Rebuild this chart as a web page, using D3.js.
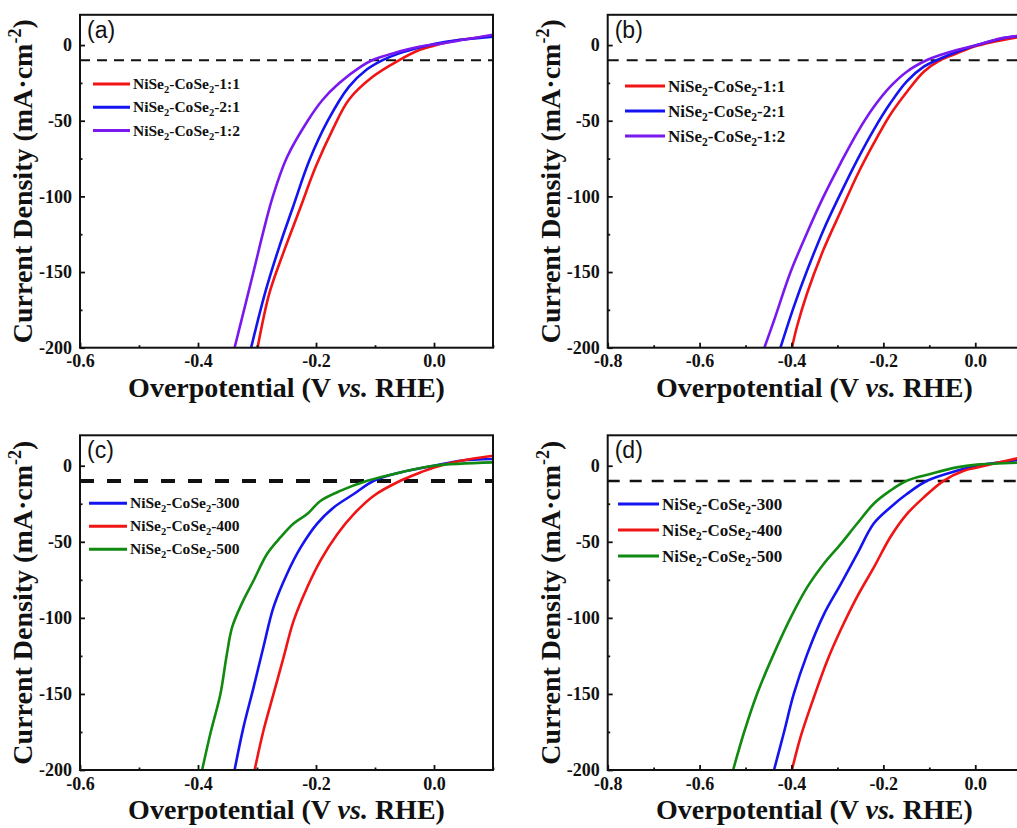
<!DOCTYPE html>
<html>
<head>
<meta charset="utf-8">
<script src="https://cdn.jsdelivr.net/npm/d3@7"></script>
<style>
  html, body { margin: 0; padding: 0; background: #fff; }
  svg { display: block; }
</style>
</head>
<body>
<svg id="fig" width="1017" height="828"></svg>
<script>
// ---- tick values ----
const xTicksShort = [-0.6, -0.4, -0.2, 0.0];
const xMinorShort = [-0.5, -0.3, -0.1, 0.1];
const xTicksLong = [-0.8, -0.6, -0.4, -0.2, 0.0];
const xMinorLong = [-0.7, -0.5, -0.3, -0.1, 0.1];
const yTicks = [0, -50, -100, -150, -200];
const yMinor = [-25, -75, -125, -175];
const refCurrent = -10;

// ---- legend labels ----
const ratioLabels = ["NiSe2-CoSe2-1:1", "NiSe2-CoSe2-2:1", "NiSe2-CoSe2-1:2"];
const tempLabels = ["NiSe2-CoSe2-300", "NiSe2-CoSe2-400", "NiSe2-CoSe2-500"];

// ---- polarization curves, [potential (V), current density (mA/cm2)] ----
// (a) ratio series
const a11 = [[-0.299,-200],[-0.279,-164],[-0.256,-138],[-0.228,-109],[-0.200,-80],[-0.172,-56],[-0.144,-36],[-0.104,-21],[-0.059,-10],[-0.025,-3.3],[-0.003,-0.7],[0.042,3.3],[0.100,6.0]];
const a21 = [[-0.310,-200],[-0.285,-162],[-0.262,-133],[-0.239,-107],[-0.211,-76],[-0.180,-50],[-0.144,-27.5],[-0.115,-16.5],[-0.087,-10],[-0.059,-5.5],[-0.020,-1.1],[0.020,2.2],[0.100,5.5]];
const a12 = [[-0.338,-200],[-0.306,-150],[-0.290,-124.4],[-0.273,-99.8],[-0.249,-74],[-0.214,-50],[-0.189,-36.3],[-0.161,-25.3],[-0.124,-14.3],[-0.104,-9.9],[-0.070,-5.5],[-0.025,-1.1],[0.014,1.1],[0.100,6.8]];
// (b) ratio series
const b11 = [[-0.399,-200],[-0.388,-186],[-0.366,-164],[-0.330,-135],[-0.293,-110],[-0.257,-86],[-0.221,-65],[-0.185,-46],[-0.149,-31],[-0.112,-17.6],[-0.076,-9.9],[-0.040,-5.5],[-0.004,-1.1],[0.040,2.2],[0.100,5.5]];
const b21 = [[-0.424,-200],[-0.395,-173],[-0.366,-149],[-0.330,-122],[-0.293,-98],[-0.257,-76],[-0.221,-56],[-0.185,-38.5],[-0.149,-24],[-0.112,-14.3],[-0.083,-9.9],[-0.040,-4.4],[0.004,0],[0.069,5],[0.100,5.8]];
const b12 = [[-0.459,-200],[-0.438,-182],[-0.402,-150],[-0.366,-124],[-0.330,-100],[-0.293,-78],[-0.257,-58],[-0.221,-41],[-0.185,-27.5],[-0.149,-17.6],[-0.105,-9.9],[-0.076,-6.6],[-0.040,-3.3],[0.004,0],[0.054,4.4],[0.100,6.2]];
// (c) annealing temperature series
const c300 = [[-0.338,-200],[-0.323,-172],[-0.306,-146],[-0.289,-119],[-0.272,-93],[-0.249,-71],[-0.226,-53.7],[-0.198,-38],[-0.170,-27.4],[-0.136,-18.6],[-0.102,-9.9],[-0.057,-4.4],[0,0],[0.045,3.3],[0.100,4.4]];
const c400 = [[-0.304,-200],[-0.289,-174],[-0.272,-150],[-0.255,-126],[-0.238,-102],[-0.215,-80],[-0.192,-62],[-0.164,-45],[-0.136,-31.8],[-0.102,-19.7],[-0.057,-9.9],[-0.023,-4.4],[0,-1.1],[0.045,3.3],[0.100,6.6]];
const c500 = [[-0.393,-200],[-0.379,-176],[-0.362,-150],[-0.352,-126],[-0.342,-106],[-0.325,-90],[-0.306,-75.6],[-0.283,-58],[-0.260,-47],[-0.238,-38],[-0.215,-31.8],[-0.192,-23],[-0.158,-16.4],[-0.113,-9.9],[-0.057,-4.4],[0,0],[0.100,2.2]];
// (d) annealing temperature series
const d300 = [[-0.438,-200],[-0.417,-176],[-0.395,-150],[-0.366,-124],[-0.330,-98],[-0.293,-78],[-0.257,-58],[-0.221,-38],[-0.185,-27.4],[-0.149,-18.6],[-0.105,-9.9],[-0.040,-3.3],[0.004,0],[0.100,4.0]];
const d400 = [[-0.399,-200],[-0.380,-178],[-0.351,-152],[-0.322,-128],[-0.293,-108],[-0.257,-86],[-0.221,-67],[-0.185,-47],[-0.149,-31.8],[-0.112,-20.8],[-0.069,-9.9],[-0.025,-3.3],[0.004,-1.1],[0.100,5.5]];
const d500 = [[-0.527,-200],[-0.504,-176],[-0.475,-150],[-0.439,-124],[-0.402,-100],[-0.366,-80],[-0.330,-64.6],[-0.293,-51.5],[-0.257,-38],[-0.221,-25],[-0.185,-16.4],[-0.149,-9.9],[-0.098,-5.5],[-0.040,-1.1],[0.004,0.7],[0.100,2.0]];

// ---- colours ----
const RED = "#f01414", BLUE = "#1414f0", PURPLE = "#7a18f0", GREEN = "#108a10";

const SERIF = '"Liberation Serif", "Times New Roman", serif';
const SANS = '"Liberation Sans", Arial, sans-serif';

const svg = d3.select("#fig");

function fmtTick(d) {
  return d3.format(".1f")(d).replace("\u2212", "-");
}
function fmtY(d) {
  return String(d);
}
function serifText(sel, size) {
  return sel.style("font-family", SERIF).style("font-weight", "bold").style("font-size", size + "px").attr("fill", "#111");
}

function drawPanel(cfg) {
  const { left, right, top, bottom, xDomain, xMajor, xMinorVals, series, colors, labels, tag, legend, dash } = cfg;
  const x = d3.scaleLinear().domain(xDomain).range([left, right]);
  const y = d3.scaleLinear().domain([-200, 20]).range([bottom, top]);
  const g = svg.append("g");

  const clipId = "clip-" + tag;
  g.append("clipPath").attr("id", clipId)
    .append("rect").attr("x", left).attr("y", top)
    .attr("width", right - left).attr("height", bottom - top);

  // reference line at -10 mA/cm2
  g.append("line")
    .attr("x1", left).attr("x2", right)
    .attr("y1", y(refCurrent)).attr("y2", y(refCurrent))
    .attr("stroke", "#111").attr("stroke-width", dash.w)
    .attr("stroke-dasharray", dash.pattern)
    .attr("clip-path", `url(#${clipId})`);

  // curves
  const line = d3.line().x(d => x(d[0])).y(d => y(d[1])).curve(d3.curveCatmullRom.alpha(0.5));
  const curves = g.append("g").attr("clip-path", `url(#${clipId})`);
  series.forEach((s, i) => {
    curves.append("path")
      .datum(s.slice().sort((p, q) => p[0] - q[0]))
      .attr("d", line)
      .attr("fill", "none")
      .attr("stroke", colors[i])
      .attr("stroke-width", 2.6)
      .attr("stroke-linejoin", "round");
  });

  // axes (major ticks labelled, minor ticks unlabelled), ticks point inward
  const xa = g.append("g").attr("transform", `translate(0,${bottom})`)
    .call(d3.axisBottom(x).tickValues(xMajor).tickSize(-5).tickPadding(7).tickFormat(fmtTick));
  const xm = g.append("g").attr("transform", `translate(0,${bottom})`)
    .call(d3.axisBottom(x).tickValues(xMinorVals).tickSize(-2.5));
  const ya = g.append("g").attr("transform", `translate(${left},0)`)
    .call(d3.axisLeft(y).tickValues(yTicks).tickSize(-5).tickPadding(8).tickFormat(fmtY));
  const ym = g.append("g").attr("transform", `translate(${left},0)`)
    .call(d3.axisLeft(y).tickValues(yMinor).tickSize(-2.5));

  [xm, ym].forEach(a => a.selectAll(".tick text").remove());
  [xa, xm, ya, ym].forEach(a => {
    a.select(".domain").remove();
    a.selectAll(".tick line").attr("stroke", "#111").attr("stroke-width", 1.8);
  });
  [xa, ya].forEach(a => serifText(a.selectAll(".tick text"), 18));

  // frame
  g.append("rect")
    .attr("x", left).attr("y", top)
    .attr("width", right - left).attr("height", bottom - top)
    .attr("fill", "none").attr("stroke", "#111").attr("stroke-width", 2);

  // panel tag
  g.append("text")
    .attr("x", left + 7).attr("y", top + 23)
    .style("font-family", SANS).style("font-size", "23px")
    .attr("fill", "#111")
    .text(`(${tag})`);

  // legend
  labels.forEach((lab, i) => {
    const ly = legend.y0 + i * legend.dy;
    g.append("line")
      .attr("x1", legend.x0).attr("x2", legend.x1)
      .attr("y1", ly).attr("y2", ly)
      .attr("stroke", colors[i]).attr("stroke-width", 3);
    const t = serifText(g.append("text"), legend.fs)
      .attr("x", legend.x1 + 3).attr("y", ly + legend.fs * 0.33);
    // "Se2" is written with a subscript 2
    const shift = legend.fs * 0.25;
    let pending = 0;
    lab.split(/(Se2)/).filter(p => p.length).forEach(p => {
      if (p === "Se2") {
        t.append("tspan").attr("dy", pending || null).text("Se");
        t.append("tspan").attr("dy", shift).style("font-size", (legend.fs * 0.68) + "px").text("2");
        pending = -shift;
      } else {
        t.append("tspan").attr("dy", pending || null).text(p);
        pending = 0;
      }
    });
  });

  // axis titles
  const xt = serifText(g.append("text"), 28)
    .attr("x", (left + right) / 2)
    .attr("y", bottom + 49)
    .attr("text-anchor", "middle");
  xt.append("tspan").text("Overpotential (V ");
  xt.append("tspan").style("font-style", "italic").text("vs.");
  xt.append("tspan").text(" RHE)");

  const ycx = left - 48, ycy = (top + bottom) / 2;
  const yt = serifText(g.append("text"), 28)
    .attr("transform", `translate(${ycx},${ycy}) rotate(-90)`)
    .attr("text-anchor", "middle");
  yt.append("tspan").text("Current Density (mA\u00b7cm");
  yt.append("tspan").attr("dy", -11).style("font-size", "18px").text("-2");
  yt.append("tspan").attr("dy", 11).text(")");
}

const topA = 14.8, botA = 347.7, topC = 435.3, botC = 770;
const leftL = 80, rightL = 493, leftR = 607.7, rightR = 1021.2;

drawPanel({
  tag: "a", left: leftL, right: rightL, top: topA, bottom: botA,
  xDomain: [-0.6, 0.1], xMajor: xTicksShort, xMinorVals: xMinorShort,
  series: [a11, a21, a12], colors: [RED, BLUE, PURPLE], labels: ratioLabels,
  legend: { x0: 93, x1: 130, y0: 84, dy: 23.3, fs: 15.5 },
  dash: { w: 2, pattern: "10,7" }
});
drawPanel({
  tag: "b", left: leftR, right: rightR, top: topA, bottom: botA,
  xDomain: [-0.8, 0.1], xMajor: xTicksLong, xMinorVals: xMinorLong,
  series: [b11, b21, b12], colors: [RED, BLUE, PURPLE], labels: ratioLabels,
  legend: { x0: 625, x1: 665, y0: 86, dy: 25, fs: 17 },
  dash: { w: 2, pattern: "11,8" }
});
drawPanel({
  tag: "c", left: leftL, right: rightL, top: topC, bottom: botC,
  xDomain: [-0.6, 0.1], xMajor: xTicksShort, xMinorVals: xMinorShort,
  series: [c300, c400, c500], colors: [BLUE, RED, GREEN], labels: tempLabels,
  legend: { x0: 89, x1: 127, y0: 503.3, dy: 23, fs: 15.5 },
  dash: { w: 4, pattern: "14,13" }
});
drawPanel({
  tag: "d", left: leftR, right: rightR, top: topC, bottom: botC,
  xDomain: [-0.8, 0.1], xMajor: xTicksLong, xMinorVals: xMinorLong,
  series: [d300, d400, d500], colors: [BLUE, RED, GREEN], labels: tempLabels,
  legend: { x0: 618, x1: 659, y0: 504, dy: 26, fs: 17 },
  dash: { w: 2.5, pattern: "12,10" }
});
</script>
</body>
</html>
